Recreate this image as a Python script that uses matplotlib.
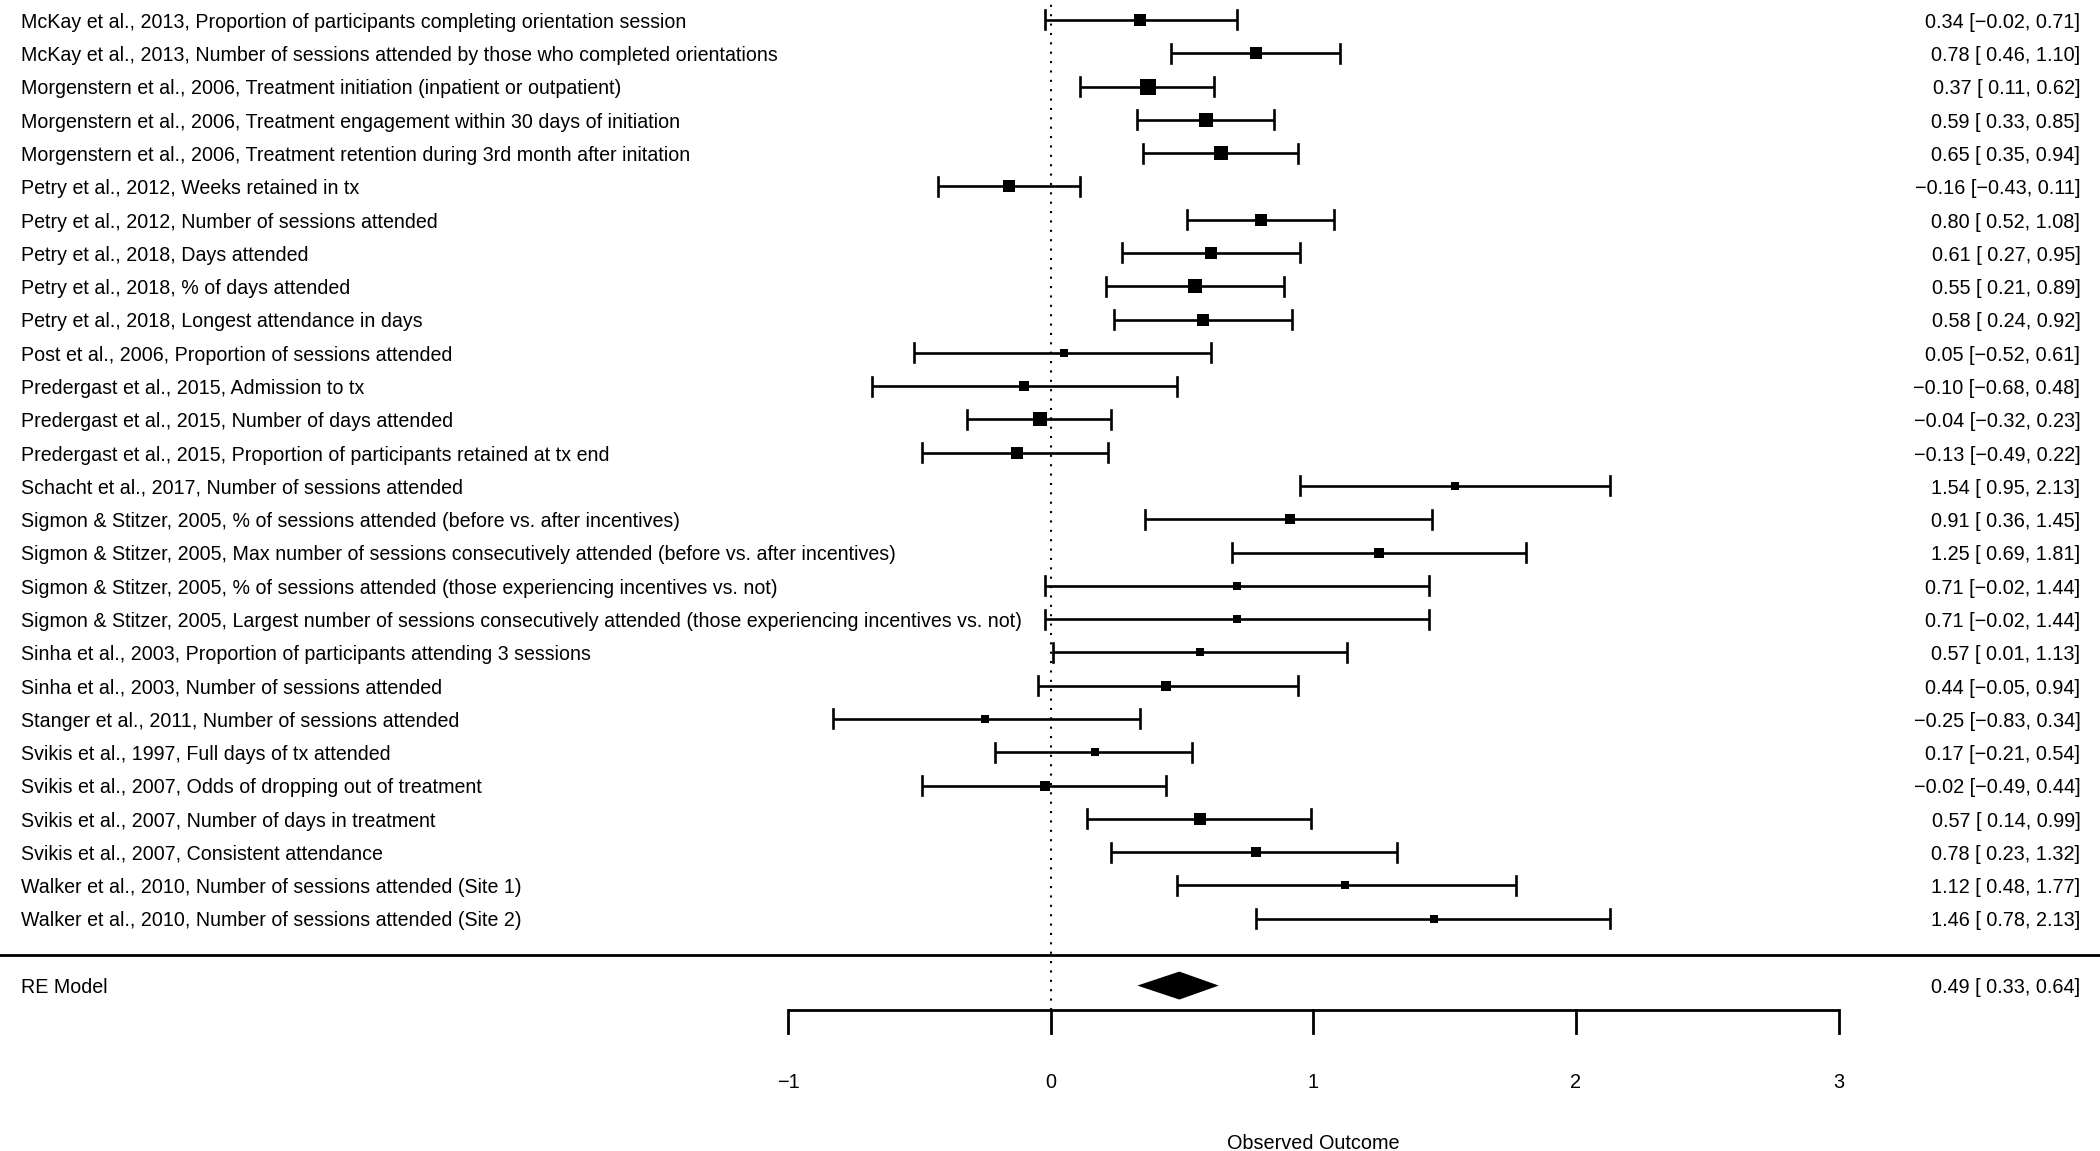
import matplotlib
matplotlib.use('Agg')
import matplotlib.pyplot as plt

plt.rcParams['font.family'] = ['Liberation Sans', 'DejaVu Sans']

labels = [
    'McKay et al., 2013, Proportion of participants completing orientation session',
    'McKay et al., 2013, Number of sessions attended by those who completed orientations',
    'Morgenstern et al., 2006, Treatment initiation (inpatient or outpatient)',
    'Morgenstern et al., 2006, Treatment engagement within 30 days of initiation',
    'Morgenstern et al., 2006, Treatment retention during 3rd month after initation',
    'Petry et al., 2012, Weeks retained in tx',
    'Petry et al., 2012, Number of sessions attended',
    'Petry et al., 2018, Days attended',
    'Petry et al., 2018, % of days attended',
    'Petry et al., 2018, Longest attendance in days',
    'Post et al., 2006, Proportion of sessions attended',
    'Predergast et al., 2015, Admission to tx',
    'Predergast et al., 2015, Number of days attended',
    'Predergast et al., 2015, Proportion of participants retained at tx end',
    'Schacht et al., 2017, Number of sessions attended',
    'Sigmon & Stitzer, 2005, % of sessions attended (before vs. after incentives)',
    'Sigmon & Stitzer, 2005, Max number of sessions consecutively attended (before vs. after incentives)',
    'Sigmon & Stitzer, 2005, % of sessions attended (those experiencing incentives vs. not)',
    'Sigmon & Stitzer, 2005, Largest number of sessions consecutively attended (those experiencing incentives vs. not)',
    'Sinha et al., 2003, Proportion of participants attending 3 sessions',
    'Sinha et al., 2003, Number of sessions attended',
    'Stanger et al., 2011, Number of sessions attended',
    'Svikis et al., 1997, Full days of tx attended',
    'Svikis et al., 2007, Odds of dropping out of treatment',
    'Svikis et al., 2007, Number of days in treatment',
    'Svikis et al., 2007, Consistent attendance',
    'Walker et al., 2010, Number of sessions attended (Site 1)',
    'Walker et al., 2010, Number of sessions attended (Site 2)',
]
estimate = [0.34, 0.78, 0.37, 0.59, 0.65, -0.16, 0.80, 0.61, 0.55, 0.58,
            0.05, -0.10, -0.04, -0.13, 1.54, 0.91, 1.25, 0.71, 0.71, 0.57,
            0.44, -0.25, 0.17, -0.02, 0.57, 0.78, 1.12, 1.46]
ci_low = [-0.02, 0.46, 0.11, 0.33, 0.35, -0.43, 0.52, 0.27, 0.21, 0.24,
          -0.52, -0.68, -0.32, -0.49, 0.95, 0.36, 0.69, -0.02, -0.02, 0.01,
          -0.05, -0.83, -0.21, -0.49, 0.14, 0.23, 0.48, 0.78]
ci_high = [0.71, 1.10, 0.62, 0.85, 0.94, 0.11, 1.08, 0.95, 0.89, 0.92,
           0.61, 0.48, 0.23, 0.22, 2.13, 1.45, 1.81, 1.44, 1.44, 1.13,
           0.94, 0.34, 0.54, 0.44, 0.99, 1.32, 1.77, 2.13]
# relative study weights (box size)
weight = [1.03, 0.97, 1.33, 1.27, 1.23, 1.07, 1.03, 1.07, 1.22, 1.10,
          0.69, 0.80, 1.19, 1.07, 0.67, 0.85, 0.85, 0.67, 0.67, 0.70,
          0.85, 0.66, 0.70, 0.87, 1.00, 0.82, 0.70, 0.70]
re_label = 'RE Model'
re_est, re_low, re_high = 0.49, 0.33, 0.64
xticks = [-1, 0, 1, 2, 3]
xlabel = 'Observed Outcome'


def fmt(v, width=0):
    return f'{v:{width}.2f}'.replace('-', '\u2212')


def ci_text(e, lo, hi):
    return f'{fmt(e)} [{fmt(lo, 5)}, {fmt(hi)}]'


fig = plt.figure(figsize=(21, 11.51), dpi=100)
ax = fig.add_axes([0, 0, 1, 1])
ax.set_xlim(-4.0, 3.995)
ax.set_ylim(-5.98, 28.6)
ax.axis('off')

k = len(labels)
rows = list(range(k, 0, -1))
fs_left = 14.1
fs = 14.3
lw = 1.9
cap = 0.285
dy = -0.07  # text baseline nudge

# reference line at zero
ax.plot([0, 0], [-1.74, 28.6], color='black', lw=1.5, ls=(0, (1, 3.5)))

for y, lab, e, lo, hi, w in zip(rows, labels, estimate, ci_low, ci_high, weight):
    ax.plot([lo, hi], [y, y], color='black', lw=lw, solid_capstyle='butt')
    ax.plot([lo, lo], [y - cap, y + cap], color='black', lw=lw)
    ax.plot([hi, hi], [y - cap, y + cap], color='black', lw=lw)
    ax.plot(e, y, marker='s', ms=w * 8.3, color='black', mew=0)
    ax.text(-3.92, y + dy, lab, ha='left', va='center', fontsize=fs_left)
    ax.text(3.92, y + dy, ci_text(e, lo, hi), ha='right', va='center', fontsize=fs)

# separator
ax.plot([-4.0, 3.995], [-0.08, -0.08], color='black', lw=2.0)

# summary diamond
ax.fill([re_low, re_est, re_high, re_est], [-1.01, -0.59, -1.01, -1.43],
        color='black', lw=0)
ax.text(-3.92, -1.01 + dy, re_label, ha='left', va='center', fontsize=fs_left)
ax.text(3.92, -1.01 + dy, ci_text(re_est, re_low, re_high), ha='right', va='center', fontsize=fs)

# x axis
ax.plot([xticks[0], xticks[-1]], [-1.74, -1.74], color='black', lw=2.0, solid_capstyle='butt')
for t in xticks:
    ax.plot([t, t], [-1.74, -2.43], color='black', lw=2.0)
    ax.text(t, -3.91, str(t).replace('-', '\u2212'), ha='center', va='center', fontsize=fs)
ax.text((xticks[0] + xticks[-1]) / 2, -5.74, xlabel, ha='center', va='center', fontsize=fs)

fig.savefig('out.png', dpi=100, facecolor='white')
